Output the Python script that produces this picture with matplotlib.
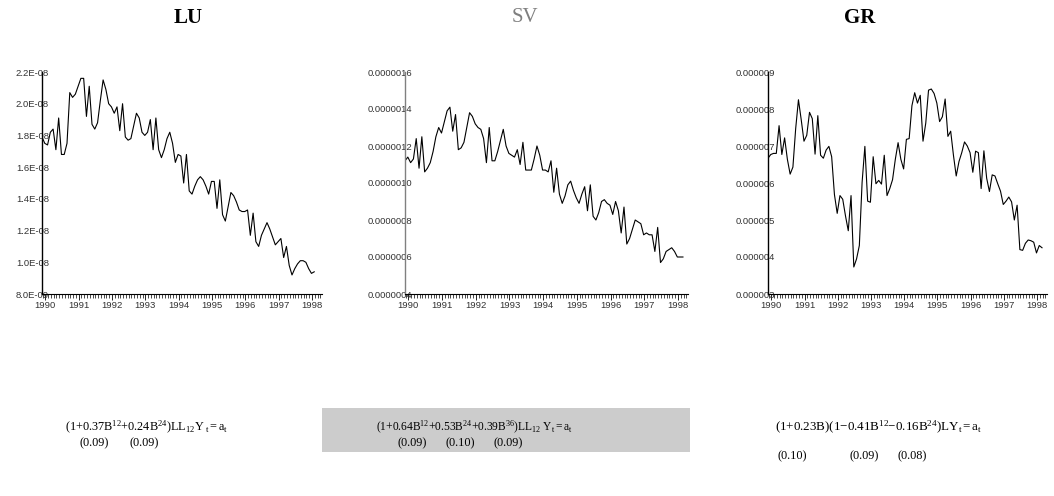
import numpy as np
import matplotlib
matplotlib.use("Agg")
import matplotlib.pyplot as plt
from matplotlib.patches import Rectangle
from matplotlib.ticker import FixedLocator, FuncFormatter

plt.rcParams["font.family"] = ["Liberation Sans", "DejaVu Sans"]
plt.rcParams["mathtext.fontset"] = "custom"
plt.rcParams["mathtext.rm"] = "Liberation Serif"
plt.rcParams["mathtext.it"] = "Liberation Serif:italic"

# Monthly series
lu = [1.79, 1.75, 1.74, 1.82, 1.84, 1.71, 1.91, 1.68, 1.68, 1.75, 2.07, 2.04, 2.06, 2.11,
      2.16, 2.16, 1.92, 2.11, 1.87, 1.84, 1.88, 2.02, 2.15, 2.09, 2.00, 1.98, 1.94, 1.98,
      1.83, 2.00, 1.79, 1.77, 1.78, 1.86, 1.94, 1.91, 1.82, 1.80, 1.82, 1.90, 1.71, 1.91,
      1.71, 1.66, 1.71, 1.78, 1.82, 1.75, 1.63, 1.68, 1.67, 1.50, 1.68, 1.45, 1.43, 1.48,
      1.52, 1.54, 1.52, 1.48, 1.43, 1.51, 1.51, 1.34, 1.52, 1.30, 1.26, 1.35, 1.44, 1.42,
      1.38, 1.33, 1.32, 1.32, 1.33, 1.17, 1.31, 1.13, 1.10, 1.17, 1.21, 1.25, 1.21, 1.16,
      1.11, 1.13, 1.15, 1.03, 1.10, 0.98, 0.92, 0.96, 0.99, 1.01, 1.01, 1.00, 0.96, 0.93,
      0.94]  # x 1e-8

sv = [1.12, 1.14, 1.11, 1.13, 1.24, 1.08, 1.25, 1.06, 1.08, 1.11, 1.17, 1.25, 1.30, 1.27,
      1.33, 1.39, 1.41, 1.28, 1.37, 1.18, 1.19, 1.22, 1.30, 1.38, 1.36, 1.32, 1.30, 1.29,
      1.24, 1.11, 1.30, 1.12, 1.12, 1.17, 1.23, 1.29, 1.20, 1.16, 1.15, 1.14, 1.18, 1.10,
      1.22, 1.07, 1.07, 1.07, 1.13, 1.20, 1.15, 1.07, 1.07, 1.06, 1.12, 0.95, 1.08, 0.94,
      0.89, 0.93, 0.99, 1.01, 0.96, 0.92, 0.89, 0.94, 0.98, 0.85, 0.99, 0.82, 0.80, 0.84,
      0.90, 0.91, 0.89, 0.88, 0.83, 0.90, 0.85, 0.73, 0.87, 0.67, 0.70, 0.75, 0.80, 0.79,
      0.78, 0.72, 0.73, 0.72, 0.72, 0.63, 0.76, 0.57, 0.59, 0.63, 0.64, 0.65, 0.63, 0.60,
      0.60, 0.60]  # x 1e-6

gr = [6.67, 6.77, 6.80, 6.80, 7.55, 6.77, 7.22, 6.64, 6.24, 6.43, 7.47, 8.25, 7.71, 7.13,
      7.29, 7.91, 7.74, 6.78, 7.82, 6.75, 6.67, 6.89, 6.99, 6.71, 5.69, 5.18, 5.66, 5.56,
      5.11, 4.71, 5.66, 3.73, 3.95, 4.31, 6.02, 6.99, 5.51, 5.48, 6.71, 5.98, 6.07, 5.97,
      6.75, 5.66, 5.85, 6.09, 6.64, 7.09, 6.64, 6.38, 7.18, 7.20, 8.09, 8.44, 8.16, 8.37,
      7.13, 7.62, 8.51, 8.54, 8.42, 8.16, 7.66, 7.79, 8.27, 7.26, 7.40, 6.75, 6.19, 6.58,
      6.82, 7.11, 7.00, 6.82, 6.29, 6.86, 6.82, 5.85, 6.87, 6.13, 5.77, 6.22, 6.19, 5.98,
      5.78, 5.42, 5.51, 5.62, 5.49, 5.00, 5.40, 4.20, 4.18, 4.37, 4.46, 4.44, 4.40, 4.11,
      4.31, 4.25]  # x 1e-6

titles = ["LU", "SV", "GR"]
years = list(range(1990, 1999))
start = 1989.9

lu_ticks = [0.8e-8, 1.0e-8, 1.2e-8, 1.4e-8, 1.6e-8, 1.8e-8, 2.0e-8, 2.2e-8]
sv_ticks = [0.4e-6, 0.6e-6, 0.8e-6, 1.0e-6, 1.2e-6, 1.4e-6, 1.6e-6]
gr_ticks = [3e-6, 4e-6, 5e-6, 6e-6, 7e-6, 8e-6, 9e-6]

equations = [
    r"$\mathrm{(1{+}0.37B^{12}{+}0.24B^{24})LL_{12}Y_{\ t} = a_t}$",
    r"$\mathrm{(1{+}0.64B^{12}{+}0.53B^{24}{+}0.39B^{36})LL_{12}\ Y_t = a_t}$",
    r"$\mathrm{(1{+}0.23B)(1{-}0.41B^{12}{-}0.16B^{24})LY_t = a_t}$",
]
std_errors = [
    ["(0.09)", "(0.09)"],
    ["(0.09)", "(0.10)", "(0.09)"],
    ["(0.10)", "(0.09)", "(0.08)"],
]

W, H = 1054, 496
fig = plt.figure(figsize=(W / 100, H / 100), dpi=100)


def px_axes(x0, x1, y0, y1):
    return fig.add_axes([x0 / W, 1 - y1 / H, (x1 - x0) / W, (y1 - y0) / H])


panels = [
    dict(box=(42, 322, 72, 294), data=np.array(lu) * 1e-8, ticks=lu_ticks,
         fmt=lambda v: f"{v:.1E}", color="black", tcolor="black", weight="bold",
         tx=188),
    dict(box=(405, 688, 72, 294), data=np.array(sv) * 1e-6, ticks=sv_ticks,
         fmt=lambda v: f"{v:.7f}", color="#808080", tcolor="#7f7f7f", weight="normal",
         tx=525),
    dict(box=(768, 1047, 72, 294), data=np.array(gr) * 1e-6, ticks=gr_ticks,
         fmt=lambda v: f"{v:.6f}", color="black", tcolor="black", weight="bold",
         tx=860),
]

for p, title in zip(panels, titles):
    ax = px_axes(*p["box"])
    t = start + np.arange(len(p["data"])) / 12.0
    ax.plot(t, p["data"], color="black", lw=0.8)
    ax.set_xlim(start, 1998.3)
    ax.set_ylim(p["ticks"][0], p["ticks"][-1])
    for s in ["top", "right"]:
        ax.spines[s].set_visible(False)
    ax.spines["left"].set_color(p["color"])
    ax.spines["left"].set_linewidth(1.0)
    ax.spines["bottom"].set_color("black")
    ax.spines["bottom"].set_linewidth(0.8)
    ax.yaxis.set_major_locator(FixedLocator(p["ticks"]))
    ax.yaxis.set_major_formatter(FuncFormatter(lambda v, _, f=p["fmt"]: f(v)))
    ax.tick_params(axis="y", length=0, pad=-5, labelsize=6.8, labelcolor="#333333")
    ax.xaxis.set_major_locator(FixedLocator(years))
    ax.xaxis.set_minor_locator(FixedLocator(1990 + np.arange(-1, 8.3 * 12) / 12.0))
    ax.set_xticklabels([str(y) for y in years])
    ax.tick_params(axis="x", which="major", length=4, width=0.6, pad=1, labelsize=6.8,
                   labelcolor="#333333", direction="out")
    ax.tick_params(axis="x", which="minor", length=3, width=0.5, direction="out")
    fig.text(p["tx"] / W, 1 - 18 / H, title, ha="center", va="center",
             fontsize=15, fontweight=p["weight"], color=p["tcolor"],
             family="Liberation Serif")

# Estimated models with standard errors beneath the coefficients
fig.patches.append(Rectangle((322 / W, 1 - 452 / H), (690 - 322) / W, 44 / H,
                             transform=fig.transFigure, facecolor="#cccccc",
                             edgecolor="none", zorder=0))

eq_pos = [(65, 427), (376, 427), (775, 427)]
se_pos = [[80, 130], [398, 446, 494], [778, 850, 897]]
se_y = [443, 443, 456]
eq_size = [8.8, 8.3, 9.4]
for eq, (ex, ey), ses, xs, sy, fs in zip(equations, eq_pos, std_errors, se_pos, se_y,
                                         eq_size):
    fig.text(ex / W, 1 - ey / H, eq, ha="left", va="center", fontsize=fs)
    for s, sx in zip(ses, xs):
        fig.text(sx / W, 1 - sy / H, s, ha="left", va="center", fontsize=8.8,
                 family="Liberation Serif")

fig.savefig("out.png", dpi=100)
